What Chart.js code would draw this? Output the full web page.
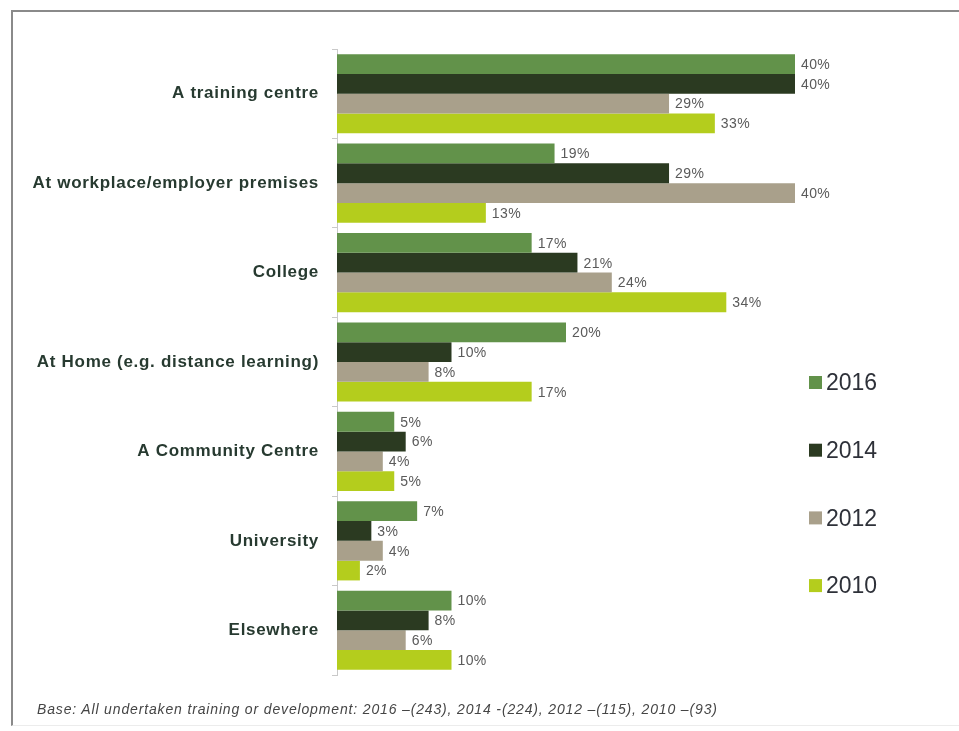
<!DOCTYPE html>
<html lang="en">
<head>
    <meta charset="UTF-8">
    <title>Where training took place</title>
    <script src="https://cdn.jsdelivr.net/npm/chart.js"></script>
    <style>
        body { margin: 0; background: #fff; }
        #wrap { position: relative; width: 959px; height: 731px; overflow: hidden; }
        #frame {
            position: absolute; left: 11px; top: 10px; right: -4px; bottom: 5px;
            border-left: 2px solid #8a8a8a; border-top: 2px solid #8a8a8a;
            border-bottom: 1px solid #ececec;
        }
        #note {
            position: absolute; left: 37px; top: 701px;
            font: italic 14px Arial, "Liberation Sans", sans-serif; color: #454545;
            letter-spacing: 0.85px;
            white-space: nowrap;
        }
        #chartBox { position: absolute; left: 0; top: 0; width: 959px; height: 731px; }
    </style>
</head>
<body>
<div id="wrap">
    <div id="frame"></div>
    <div id="chartBox"><canvas id="myChart"></canvas></div>
    <div id="note">Base: All undertaken training or development: 2016 –(243), 2014 -(224), 2012 –(115), 2010 –(93)</div>
</div>

<script>
    // Datos
    const categories = [
        'A training centre',
        'At workplace/employer premises',
        'College',
        'At Home (e.g. distance learning)',
        'A Community Centre',
        'University',
        'Elsewhere'
    ];
    const years = ['2016', '2014', '2012', '2010'];
    const values2016 = [40, 19, 17, 20, 5, 7, 10];
    const values2014 = [40, 29, 21, 10, 6, 3, 8];
    const values2012 = [29, 40, 24, 8, 4, 4, 6];
    const values2010 = [33, 13, 34, 17, 5, 2, 10];
    const colors = ['#62924a', '#2b3a21', '#a9a08b', '#b4cd1d'];

    const series = [values2016, values2014, values2012, values2010];

    // Espaciado de letras para las etiquetas del eje
    const axisSpacing = {
        id: 'axisSpacing',
        beforeDraw(chart) { chart.ctx.letterSpacing = '0.7px'; },
        beforeDatasetsDraw(chart) { chart.ctx.letterSpacing = '0px'; }
    };

    // Etiquetas de porcentaje al final de cada barra
    const valueLabels = {
        id: 'valueLabels',
        afterDatasetsDraw(chart) {
            const c = chart.ctx;
            c.save();
            c.font = '14px Arial, "Liberation Sans", sans-serif';
            c.letterSpacing = '0.4px';
            c.fillStyle = '#5a5a5a';
            c.textBaseline = 'middle';
            c.textAlign = 'left';
            chart.data.datasets.forEach((ds, i) => {
                chart.getDatasetMeta(i).data.forEach((bar, j) => {
                    c.fillText(ds.data[j] + '%', bar.x + 6, bar.y + 1);
                });
            });
            c.restore();
        }
    };

    // Leyenda a la derecha
    const sideLegend = {
        id: 'sideLegend',
        afterDraw(chart) {
            const c = chart.ctx;
            c.save();
            c.font = '23px Arial, "Liberation Sans", sans-serif';
            c.letterSpacing = '0px';
            c.textBaseline = 'middle';
            chart.data.datasets.forEach((ds, i) => {
                const y = 383 + i * 67.7;
                c.fillStyle = ds.backgroundColor;
                c.fillRect(809, y - 7, 13, 13);
                c.fillStyle = '#2e3139';
                c.fillText(ds.label, 826, y + 1);
            });
            c.restore();
        }
    };

    const ctx = document.getElementById('myChart').getContext('2d');
    const myChart = new Chart(ctx, {
        type: 'bar',
        data: {
            labels: categories,
            datasets: years.map((y, i) => ({
                label: y,
                data: series[i],
                backgroundColor: colors[i],
                borderWidth: 0,
                categoryPercentage: 0.885,
                barPercentage: 1.0
            }))
        },
        options: {
            indexAxis: 'y',
            responsive: true,
            maintainAspectRatio: false,
            animation: false,
            layout: { padding: { left: 0, top: 49, right: 164, bottom: 56 } },
            plugins: {
                legend: { display: false },
                tooltip: { enabled: false }
            },
            scales: {
                x: { display: false, min: 0, max: 40 },
                y: {
                    afterFit(scale) { scale.width = 337; },
                    border: { display: true, color: '#c9c9c9', width: 1 },
                    grid: {
                        offset: true,
                        drawOnChartArea: false,
                        drawTicks: true,
                        tickLength: 5,
                        color: '#c9c9c9'
                    },
                    ticks: {
                        padding: 13,
                        color: '#273a30',
                        font: { family: 'Arial, "Liberation Sans", sans-serif', size: 17, weight: 'bold' }
                    }
                }
            }
        },
        plugins: [axisSpacing, valueLabels, sideLegend]
    });
</script>
</body>
</html>
